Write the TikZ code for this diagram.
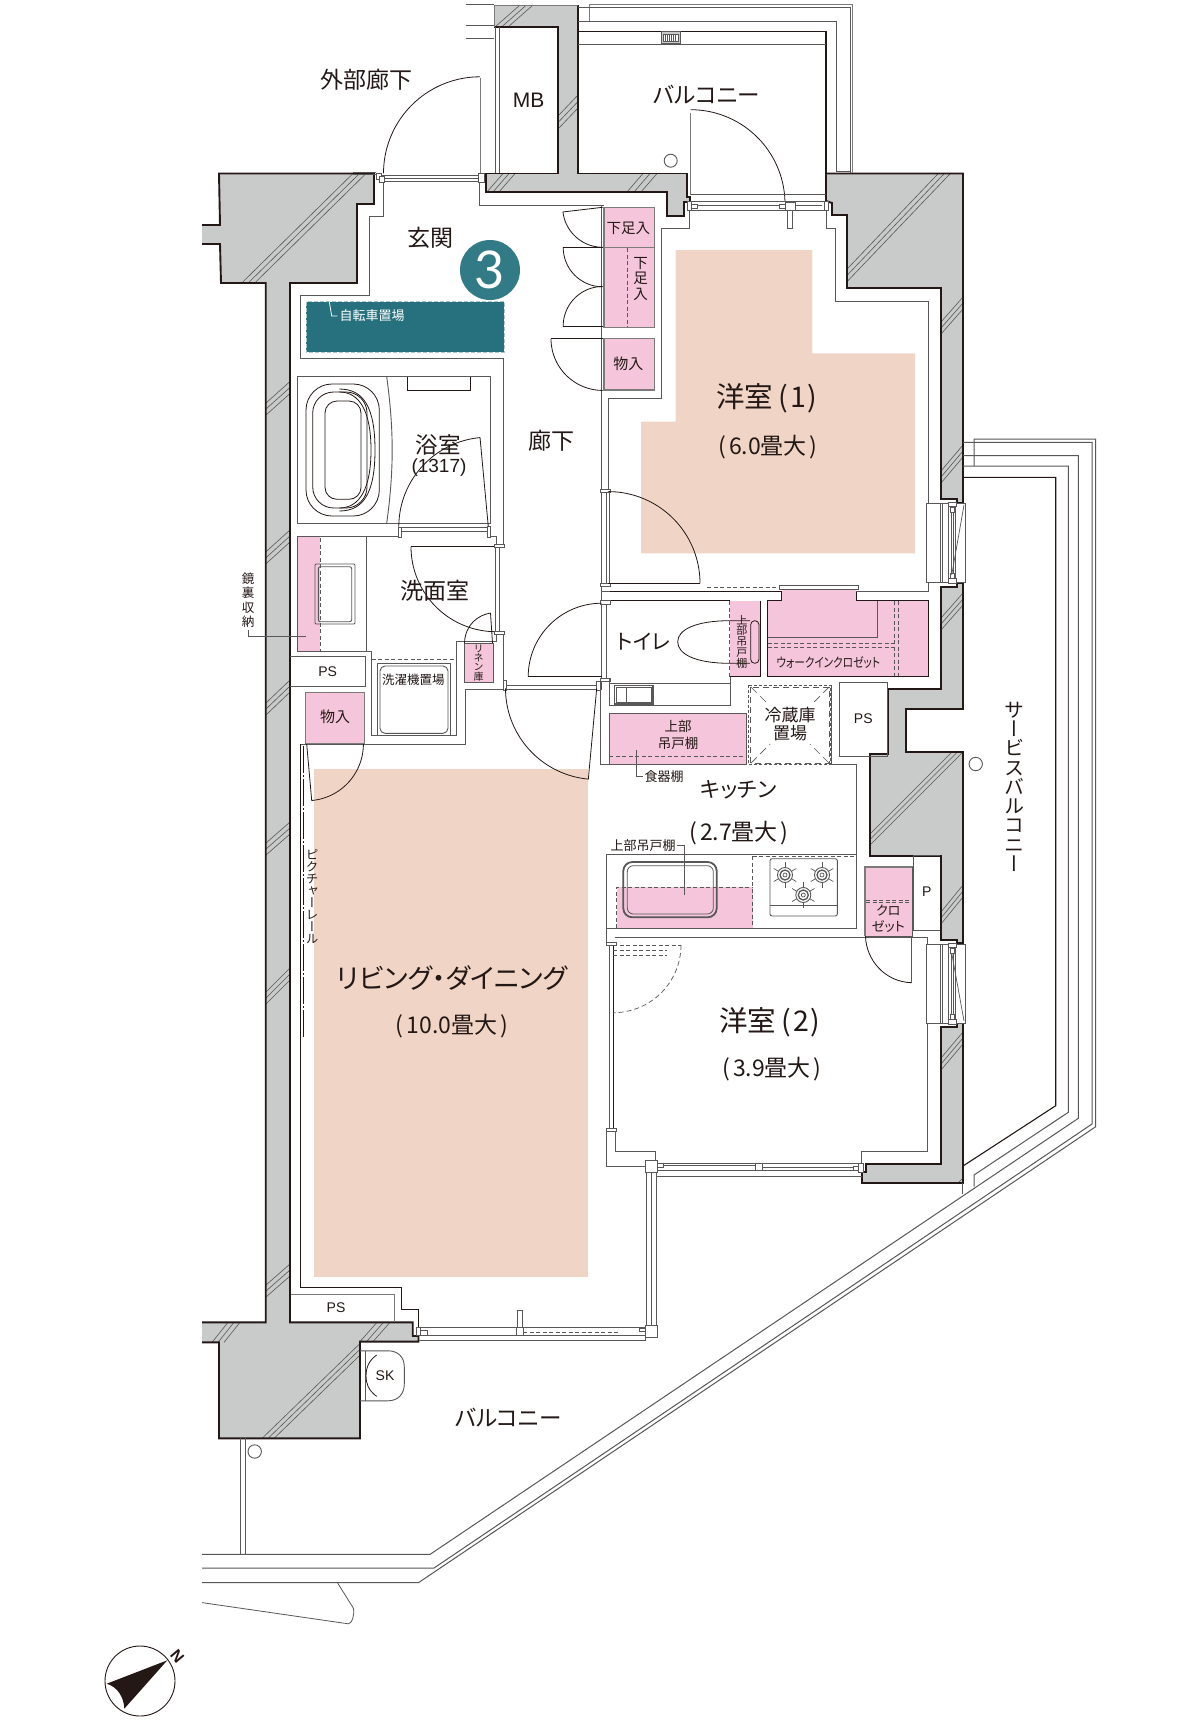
\documentclass[tikz,border=0pt]{standalone}
\usepackage{fontspec}
\setmainfont{Liberation Sans}
\newfontfamily\jp[RawFeature=+palt]{Noto Sans CJK JP}
\newfontfamily\jpv[RawFeature=+vert]{Noto Sans CJK JP}
\newfontfamily\latof{Lato}
\definecolor{ink}{HTML}{231815}
\definecolor{wallc}{HTML}{C9CACA}
\definecolor{pinkc}{HTML}{F5C6DB}
\definecolor{roomc}{HTML}{F0D5C6}
\definecolor{linec}{HTML}{595757}
\definecolor{grayc}{HTML}{7D7A7A}
\definecolor{tealc}{HTML}{26717D}
\definecolor{tealr}{HTML}{327A85}
\tikzset{
  wallout/.style={draw=ink,line width=1.9,line join=miter},
  hatchline/.style={draw=linec,line width=0.6},
  thinl/.style={draw=linec,line width=0.9},
  darkl/.style={draw=ink,line width=1.1},
  grayl/.style={draw=grayc,line width=1.2},
  doorl/.style={draw=ink,line width=0.8},
  dashg/.style={draw=linec,line width=0.9,dash pattern=on 4 off 2.5},
  pinkbox/.style={fill=pinkc,draw=grayc,line width=1.5},
  blockb/.style={fill=white,draw=linec,line width=0.8},
  tx/.style={inner sep=0,text=ink},
}
\newcommand\lbl[5]{\node[tx,font=\jp\fontsize{#4}{#4}\selectfont] (#1) at (#2,#3) {#5};}
\newcommand\lsf[5]{\node[tx,font=\fontsize{#4}{#4}\selectfont] (#1) at (#2,#3) {#5};}
\newcommand\vlbl[6]{\node[tx,align=center,font=\jpv\fontsize{#4}{#5}\selectfont] (#1) at (#2,#3) {#6};}
\newcommand\concrete[2]{\fill[wallc] #1; \begin{scope}\clip #1; #2\end{scope}}
\newcommand\hatchm[6]{\foreach \i in {0,1,2}{\draw[hatchline,shift={({\i*#5},{\i*#6})}] (#1,#2)--(#3,#4);}}
\newcommand\swing[5]{\draw[doorl] plot[domain=#4:#5,samples=40,variable=\t] ({#1+#3*cos(\t)},{#2+#3*sin(\t)});}
\newcommand\burner[2]{\begin{scope}[shift={(#1,#2)}]
  \foreach \a in {30,90,...,330}{\draw[thinl,line width=0.7] ({4*cos(\a)},{4*sin(\a)})--({13*cos(\a)},{13*sin(\a)});}
  \draw[thinl,fill=white] (0,0) circle[radius=7.5];
  \draw[thinl,line width=1.3] (0,0) circle[radius=5];
  \draw[thinl,line width=0.7] (0,0) circle[radius=2];
\end{scope}}
\newcommand\winbox[1]{\begin{scope}[shift={(0,#1)}]
  \draw[thinl,fill=white] (926.7,0) rectangle (965.7,79);
  \draw[thinl] (940.7,0)--(940.7,79) (942.7,0)--(942.7,79);
  \draw[thinl] (948.3,0)--(948.3,79) (955,0)--(955,79);
  \draw[thinl,line width=0.7] (951.7,9)--(951.7,70) (953.5,9)--(953.5,70);
  \draw[blockb] (948.3,-1) rectangle (956,3.5);
  \draw[blockb] (948.3,75.5) rectangle (956,80);
  \draw[blockb] (950.5,4) rectangle (954,9);
  \draw[blockb] (950.5,70) rectangle (954,75);
\end{scope}}
\begin{document}
\begin{tikzpicture}[x=1pt,y=-1pt]
\fill[white] (0,0) rectangle (1200,1721);
\useasboundingbox (0,0) rectangle (1200,1721);

% room floors
\fill[roomc] (675.7,250)--(812.3,250)--(812.3,353.3)--(915,353.3)--(915,553.3)--(641,553.3)--(641,421.7)--(675.7,421.7)--cycle;
\fill[roomc] (314,769) rectangle (588,1277);

% concrete walls
\newcommand\wallA{(202,225)--(220,225)--(219,173.5)--(374,173.5)--(374,204)--(357,204)--(357,283)--(290,283)--(290,1322.3)--(412.7,1322.3)--(412.7,1336)--(418.5,1336)--(418.5,1341.6)--(360,1341.6)--(360,1438.4)--(219,1438.4)--(219,1342.4)--(202,1342.4)--(202,1322.3)--(265.7,1322.3)--(265.7,283)--(221,283)--(220,244)--(202,244)--cycle}
\concrete{\wallA}{
  \hatchm{241.7}{283}{353}{173.5}{6.5}{0}
  \hatchm{266}{403}{290}{381.5}{0}{6}
  \hatchm{266}{551.7}{290}{530}{0}{6}
  \hatchm{266}{703}{290}{680}{0}{6}
  \hatchm{266}{843}{290}{822}{0}{6}
  \hatchm{266}{992}{290}{968}{0}{6}
  \hatchm{266}{1285}{290}{1264}{0}{6}
  \hatchm{212}{1342.4}{228}{1322.3}{6}{0}
  \hatchm{360}{1341.6}{377}{1322.3}{6.5}{0}
  \hatchm{262}{1438.4}{360}{1343.5}{6}{0}
}
\draw[wallout] (202,225)--(220,225)--(219,173.5)--(374,173.5)--(374,204)--(357,204)--(357,283)--(290,283)--(290,1322.3)--(412.7,1322.3)--(412.7,1336)--(418.5,1336)--(418.5,1341.6)--(360,1341.6)--(360,1438.4)--(219,1438.4)--(219,1342.4)--(202,1342.4);
\draw[wallout] (202,1322.3)--(265.7,1322.3)--(265.7,283)--(221,283)--(220,244)--(202,244);

\newcommand\wallB{(494,5)--(578,5)--(578,173.5)--(686.7,173.5)--(686.7,196.7)--(690,196.7)--(690,201.7)--(684,201.7)--(684,216)--(666.7,216)--(666.7,192)--(486,192)--(486,173.5)--(558,173.5)--(558,27)--(494,27)--cycle}
\concrete{\wallB}{
  \hatchm{495}{27}{520}{5}{6.5}{0}
  \hatchm{559}{115}{578}{95}{0}{6.5}
  \hatchm{487}{192}{503}{173.5}{6}{0}
  \hatchm{627}{192}{643}{173.5}{7}{0}
}
\draw[wallout] (494,27)--(558,27)--(558,173.5)--(486,173.5)--(486,192)--(666.7,192)--(666.7,216)--(684,216)--(684,201.7)--(690,201.7)--(690,196.7)--(686.7,196.7)--(686.7,173.5)--(578,173.5)--(578,5);
\draw[grayl,line width=0.9] (494,27)--(494,5)--(578,5);

\newcommand\wallC{(826,173.5)--(963,173.5)--(963,503)--(957,503)--(957,499)--(941,499)--(941,288)--(847,288)--(847,215)--(832,215)--(832,203)--(826,201)--cycle}
\concrete{\wallC}{
  \hatchm{828}{289}{938.3}{173.5}{6}{0}
  \hatchm{941}{322}{963}{297}{0}{6}
  \hatchm{941}{471}{963}{445}{0}{6}
}
\draw[wallout] \wallC;

\newcommand\wallD{(941,587)--(957,587)--(957,583)--(963,583)--(963,709)--(906,709)--(906,752)--(963,752)--(963,943)--(957,943)--(957,940)--(941,940)--(941,855.7)--(870,855.7)--(870,754)--(887.7,754)--(887.7,689)--(941,689)--cycle}
\concrete{\wallD}{
  \hatchm{941}{618}{963}{593}{0}{6}
  \hatchm{860}{844}{952}{752}{5.5}{0}
  \hatchm{941}{912}{963}{885}{0}{6}
}
\draw[wallout] \wallD;

\newcommand\wallE{(941,1027)--(957,1027)--(957,1023)--(963,1023)--(963,1183)--(862,1183)--(862,1172)--(866,1172)--(866,1164)--(941,1164)--cycle}
\concrete{\wallE}{
  \hatchm{941}{1058}{963}{1032}{0}{6}
  \draw[hatchline] (958,1183)--(963,1178);
}
\draw[wallout] \wallE;

% pink storage
\draw[pinkbox] (604,207.3) rectangle (654.7,247.3);
\draw[pinkbox] (604,247.3) rectangle (654.7,327.3);
\draw[dashg] (627.3,248)--(627.3,327);
\draw[pinkbox] (604,338.7) rectangle (654.7,390);
\fill[pinkc] (729.7,600.7) rectangle (760.7,676.7);
\fill[pinkc] (767.7,600.7) rectangle (928,676.7);
\fill[pinkc] (781.7,589) rectangle (856,601);
\fill[pinkc] (609.3,713.3) rectangle (746.7,764.3);
\fill[pinkc] (298.3,537.3) rectangle (320,651.7);
\draw[pinkbox] (305.7,692.3) rectangle (364.3,743.3);
\draw[pinkbox,draw=linec,line width=1] (464,643.3) rectangle (493.3,682.3);
\fill[pinkc] (616.7,887.3) rectangle (752.7,928.3);
\fill[pinkc] (865,867.3) rectangle (912.7,936);
\draw[grayl,line width=2] (865,936)--(865,867.3)--(912.7,867.3);
\draw[thinl] (912.7,867.3)--(912.7,936);
\draw[thinl] (865,936)--(912.7,936);

% corridor & room finishing lines
\draw[thinl] (383,182)--(383,216.7)--(369.3,216.7)--(369.3,295)--(300.7,295)--(300.7,358)--(503.3,358)--(503.3,545);
\draw[thinl] (503.3,634)--(503.3,689.3)--(465,689.3)--(465,744.3)--(300.7,744.3);
\draw[darkl,line width=0.9] (300.7,744.3)--(300.7,1287.2)--(401.7,1287.2)--(401.7,1309.9)--(418.7,1309.9)--(418.7,1327);
\draw[thinl] (479,182)--(479,205)--(604,205);
\draw[thinl] (601.7,205)--(601.7,490);
\draw[thinl] (689.3,205)--(689.3,228)--(661.7,228)--(661.7,398)--(608.5,398)--(608.5,490);
\draw[thinl] (826,207)--(826,228)--(835.3,228)--(835.3,301.7)--(928.3,301.7)--(928.3,503);
\draw[thinl] (928.3,582)--(928.3,591.7)--(856,591.7);
\draw[darkl] (610,591.7)--(780,591.7);
\draw[darkl] (610,600.7)--(729.7,600.7);
\draw[dashg] (707.3,587.3)--(779,587.3);
\draw[thinl] (601.7,492)--(601.7,690) (606,492)--(606,583) (609.3,492)--(609.3,583);
\draw[thinl] (606,603)--(606,678) (601.7,591.7)--(610,591.7);
\foreach \yy in {489,583,600.7,678}{\draw[blockb] (600.7,\yy) rectangle (610,\yy+3.2);}

% entrance door
\draw[grayl,line width=1] (480,78.3)--(480,173.3);
\swing{480}{173.3}{96.5}{180}{270}
\draw[thinl,fill=white] (381.7,175) rectangle (480,181.7);
\draw[thinl,line width=0.6] (381.7,178)--(480,178);
\draw[blockb] (376,173) rectangle (381.7,179);
\draw[blockb] (379,176) rectangle (384,182);
\draw[blockb] (478.5,173) rectangle (484,182);
\draw[thinl,line width=0.7] (352.7,172)--(376,172) (352.7,174)--(376,174);
% MB
\draw[thinl] (495,27)--(495,173) (499,27)--(499,173);
\draw[thinl,line width=0.8] (465.7,4.7)--(494,4.7) (465.7,25.7)--(494,25.7) (465.7,38)--(494,38);

% top balcony
\draw[grayl,line width=1] (589.3,21)--(589.3,4.7)--(852.7,4.7)--(852.7,173);
\draw[thinl,line width=0.8] (578,7.3)--(850,7.3)--(850,173);
\draw[thinl] (578,21)--(836,21)--(836,171.7)--(850,171.7);
\draw[darkl] (578,31.7)--(826,31.7)--(826,173);
\draw[thinl] (578,44)--(826,44);
\draw[thinl,fill=wallc] (661.7,31.7) rectangle (680,43.3);
\draw[thinl,fill=white,line width=0.6] (663.5,34) rectangle (678,41);
\foreach \xx in {665.5,667.5,...,676.5}{\draw[thinl,line width=0.6] (\xx,34)--(\xx,41);}
\draw[thinl] (670.7,160.7) circle[radius=6.5];
% balcony door
\draw[grayl,line width=1] (690.7,113)--(690.7,195);
\swing{690.7}{204}{94.3}{270}{360}
\draw[thinl] (690.7,194.3)--(826,194.3);
\draw[thinl,fill=white] (687.3,201.7) rectangle (828.3,210.7);
\draw[thinl,line width=0.7] (696,205)--(785,205) (795,205)--(822,205);
\draw[blockb] (691,204.5) rectangle (697,208);
\draw[blockb] (779,204.5) rectangle (785,208);
\draw[blockb] (785,202.3) rectangle (795,210.7);
\draw[blockb] (787.3,210.7) rectangle (792.3,228.3);
\draw[blockb] (687.3,201.7) rectangle (691,210.7);
\draw[blockb] (824,201.7) rectangle (828.3,210.7);

% shoe closet doors
\draw[doorl] (562.7,212)--(602.7,207.3);
\swing{602.7}{207.3}{40}{173}{90}
\draw[doorl] (562.7,247.3)--(602.7,247.3);
\swing{602.7}{247.3}{39.5}{180}{90}
\draw[doorl] (562.7,326)--(602.7,326);
\swing{602.7}{326}{39.5}{180}{270}
\draw[doorl] (551,338.7)--(602.7,338.7);
\swing{602.7}{338.7}{51.7}{180}{90}

% bicycle parking
\fill[tealc] (306,301.7) rectangle (504.3,352.3);
\draw[draw=white!60!tealc,line width=1,dash pattern=on 4 off 2] (306,301.7) rectangle (504.3,352.3);
\draw[white,line width=0.8] (329.3,301.7)--(331.7,316)--(337.3,316);
\fill[tealr] (490,270) circle[radius=30];

% bathroom
\draw[thinl] (297.3,376.7) rectangle (490,523.3);
\draw[thinl] (386.7,376.7) .. controls (394,430) and (394,470) .. (386.7,523.3);
\draw[darkl,line width=0.8] (407.3,376.7)--(407.3,390.7)--(470,390.7)--(470,376.7);
\draw[doorl] (306,384) [rounded corners=26] rectangle (379.3,516);
\draw[doorl] (312.7,392) [rounded corners=21] rectangle (367,508);
\draw[doorl] (325,401) [rounded corners=12] rectangle (361,499.3);
\draw[doorl] (339.3,389) .. controls (364,389) and (375,408) .. (375,450) .. controls (375,492) and (364,511) .. (339.3,511);
\draw[doorl] (339.3,392) .. controls (360,392) and (371,412) .. (371,450) .. controls (371,488) and (360,508) .. (339.3,508);
\draw[thinl] (399.3,527.7)--(488.3,527.7) (399.3,531.5)--(488.3,531.5);
\draw[blockb] (398.3,527.7) rectangle (400.9,537.7);
\draw[blockb] (487.3,526.7) rectangle (490,537.7);
\draw[doorl] (480,437.3)--(488.3,526.7);
\swing{488.3}{526.7}{89.5}{180}{264.7}
\draw[thinl] (297.3,536.7)--(398.3,536.7);
\draw[thinl] (490,536.7)--(496,536.7)--(496,545);

% washroom
\draw[thinl] (297.3,536.7)--(297.3,651.7)--(371.7,651.7)--(371.7,735)--(456.7,735)--(456.7,641)--(496,641)--(496,633);
\draw[thinl] (366,537)--(366,651.7);
\draw[dashg] (320,538)--(320,651);
\draw[thinl] (315,564) [rounded corners=1] rectangle (355,624);
\draw[thinl] (318.3,566.7) [rounded corners=2] rectangle (351.7,621.7);
\draw[thinl] (290,656.7)--(365.7,656.7)--(365.7,686)--(290,686);
\draw[dashg] (371.7,659)--(456.7,659);
\draw[thinl] (377.7,663.3) rectangle (450,735.7);
\draw[thinl] (380,666) [rounded corners=5] rectangle (448,733.3);
\draw[doorl] (411,546.7)--(496,546.7);
\swing{496}{546.7}{85}{180}{90}
\draw[thinl] (495.3,546)--(495.3,632) (499.3,546)--(499.3,632);
\draw[blockb] (494.3,544.3) rectangle (504,546.9);
\draw[blockb] (494.3,631.7) rectangle (504.3,634);
% linen door
\draw[doorl] (490.5,613)--(492.5,643);
\draw[doorl] (464.5,643) .. controls (465,625) and (478,615) .. (490.5,613);
% leaders
\draw[thinl,line width=0.7] (248,630)--(248,636.5)--(306,636.5);

% store door, picture rail
\draw[doorl] (306.7,744)--(311.7,800.5);
\swing{306.7}{744}{56.7}{0}{85}
\draw[ink,line width=0.7,dash pattern=on 27 off 2 on 2 off 2] (303,746)--(303,1037);

% LD door
\draw[thinl] (505,685.7)--(598,685.7) (505,689.3)--(598,689.3);
\draw[blockb] (503.3,680.7) rectangle (506,690);
\draw[blockb] (596.7,681.7) rectangle (600,690);
\draw[doorl] (596.7,688.3)--(588.3,779.3);
\swing{596.7}{688.3}{91.2}{180}{95.2}
% toilet door
\draw[doorl] (528,676.7)--(601.7,676.7);
\swing{601.7}{676.7}{73.5}{180}{270}
% room 1 door
\draw[doorl] (608.3,583.3)--(700,583.3);
\swing{608.3}{583.3}{91.7}{0}{-90}

% toilet
\draw[thinl] (609.3,678)--(609.3,705)--(730,705)--(730,676.7);
\draw[thinl] (609.3,683.3)--(730,683.3);
\draw[thinl,line width=1.2] (614.3,685.3) rectangle (653,704);
\draw[thinl,line width=0.8] (616.5,687.5) rectangle (651,702);
\draw[thinl] (626.7,687)--(626.7,703);
\draw[doorl] (750,620.7)--(730,620.7) .. controls (695,620.7) and (677.7,630) .. (677.7,641.7) .. controls (677.7,654) and (695,663.3) .. (730,663.3)--(750,663.3);
\draw[dashg,line width=0.7] (729.7,601)--(729.7,676.7);
\draw[doorl] (750.7,620.7) [rounded corners=4] rectangle (759,663.3);
\draw[darkl,line width=0.8] (760.7,600.7)--(760.7,676.7)--(729.7,676.7);
% WIC
\draw[darkl,line width=0.9] (780,591.7)--(781.7,591.7)--(781.7,600.7)--(767.7,600.7)--(767.7,676.7)--(928,676.7)--(928,600.7)--(856,600.7)--(856,591.7);
\draw[thinl,fill=white] (779,585) rectangle (858.3,589);
\draw[thinl] (767.7,637.3)--(877.3,637.3)--(877.3,600.7);
\draw[dashg] (767.7,643.3)--(895,643.3) (767.7,647.3)--(895,647.3) (894.3,601)--(894.3,676) (898.3,601)--(898.3,676);
% kitchen cabinet
\draw[thinl] (609.3,764.3)--(609.3,713.3)--(746.7,713.3)--(746.7,764.3);
\draw[thinl] (600.7,683)--(600.7,764.3)--(746.7,764.3);
\draw[dashg] (609.3,756.7)--(746.7,756.7);
\draw[thinl,line width=0.7] (636,750)--(636,776.7)--(643.3,776.7);
% fridge
\draw[dashg,line width=0.8,dash pattern=on 3 off 2] (748.3,685) rectangle (830.7,764.3);
\draw[dashg,line width=0.8,dash pattern=on 6 off 4] (750.7,687) rectangle (829,763);
\draw[dashg,line width=0.7,dash pattern=on 8 off 5] (751,687)--(768,704) (829,687)--(812,704) (751,763)--(770,744) (829,763)--(810,744);
\draw[thinl] (831.7,685)--(831.7,764.3)--(856,764.3)--(856,854);
\draw[thinl] (839.3,682.7) rectangle (887.3,756.7);
% kitchen counter
\draw[thinl] (606,854)--(856.7,854)--(856.7,928.3)--(606,928.3)--cycle;
\draw[dashg,line width=0.8] (616.7,928)--(616.7,887.3)--(752.7,887.3);
\draw[dashg,line width=0.8] (752.7,856)--(752.7,928) (752.7,856)--(856,856);
\draw[linec,line width=1.8] (623.3,862) [rounded corners=9] rectangle (716.7,917.3);
\draw[thinl,line width=0.8] (627.3,865.7) [rounded corners=6] rectangle (713.3,914);
\draw[thinl,line width=0.7] (677.3,845)--(684.7,845)--(684.7,895);
\draw[thinl] (770,858.7) [rounded corners=2] rectangle (837.3,916);
\draw[thinl] (770,905)--(837.3,905);
\burner{785}{875}
\burner{822}{875}
\burner{803.3}{895}
% P box, closet
\draw[thinl] (913.3,855.7)--(940,855.7) (913.3,855.7)--(913.3,930)--(940,930);
\draw[dashg] (866,900)--(912,900) (866,902.5)--(912,902.5);

% room 2
\draw[thinl] (615,937.3)--(927.7,937.3)--(927.7,945);
\draw[thinl] (606,928.3)--(606,942.7);
\draw[thinl] (609.3,945)--(609.3,1130);
\draw[darkl] (613.3,945)--(613.3,1130);
\draw[blockb] (606,942.7) rectangle (616.7,945.7);
\draw[blockb] (606,1128) rectangle (616.7,1131.7);
\draw[thinl] (927.7,1023)--(927.7,1151.7)--(861.7,1151.7)--(861.7,1163);
\draw[thinl] (615,1131.7)--(615,1151.7)--(655,1151.7)--(655,1161.7);
\draw[thinl] (606.7,1131.7)--(606.7,1166.7)--(645.7,1166.7);
\draw[doorl] (865.5,936) .. controls (866,960) and (885,982) .. (911.7,982.7);
\draw[thinl] (911.7,936.7)--(911.7,982.7);
\draw[dashg,line width=0.7] (613.3,945)--(681,945);
\draw[dashg,line width=0.7] (613.3,950.7)--(667,950.7) (613.3,955)--(667,955);
\draw[dashg,line width=0.7,dash pattern=on 5 off 3] plot[domain=0:90,samples=40,variable=\t] ({613.3+67.7*cos(\t)},{945+67.7*sin(\t)});
\winbox{503}
\draw[thinl,line width=0.7] (964,505)--(951.7,575);
\winbox{944.3}
\draw[thinl,line width=0.7] (951.7,953)--(964,1021);

% south sash of room 2
\draw[thinl] (656.7,1163.3)--(862,1163.3) (656.7,1165)--(755.7,1165) (656.7,1170)--(861.7,1170);
\draw[thinl] (762.3,1167)--(856,1167);
\draw[thinl] (656.7,1176)--(862,1176);
\draw[blockb] (755.7,1163.3) rectangle (762.3,1170);
\draw[blockb] (853,1166) rectangle (858,1170);
\draw[blockb] (858,1163) rectangle (863,1172);
\draw[blockb] (656.7,1163.5) rectangle (663,1167);
\draw[thinl] (646.7,1172)--(646.7,1326) (651,1172)--(651,1326) (656,1172)--(656,1326);
\draw[blockb] (645.7,1160.8) rectangle (657.3,1172.3);
\draw[blockb] (645.7,1325.2) rectangle (657.3,1336.9);
% south sash of LD
\draw[thinl] (420.7,1327)--(645.7,1327) (420.7,1335)--(645.7,1335) (418.5,1340.5)--(645.7,1340.5) (645.7,1336.9)--(645.7,1340.5);
\draw[dashg,line width=0.7] (523.3,1332.5)--(620,1332.5);
\draw[blockb] (416,1327) rectangle (420.7,1335);
\draw[blockb] (420.7,1330.5) rectangle (427,1335);
\draw[blockb] (516.7,1327) rectangle (523.3,1335);
\draw[blockb] (517.3,1309.9) rectangle (522.3,1327);
\draw[blockb] (639,1328) rectangle (645.7,1331.5);
% PS bottom
\draw[grayl,line width=1] (290.7,1294.9)--(394,1294.9)--(394,1322.3);
% SK
\draw[thinl] (360,1350.8)--(388,1350.8) .. controls (398,1350.8) and (404.3,1357) .. (404.3,1367)--(404.3,1384) .. controls (404.3,1394) and (398,1400.8) .. (388,1400.8)--(360,1400.8);
\draw[thinl] (365,1350.8)--(365,1400.8);
\draw[doorl] (376.7,1355) .. controls (368,1361) and (366,1369) .. (366,1375.6) .. controls (366,1383) and (368,1390) .. (376.7,1396.4);
% bottom-left balcony
\draw[thinl] (254.7,1451.5) circle[radius=6.7];
\draw[thinl] (240.7,1438.4)--(240.7,1554.4) (245,1438.4)--(245,1554.4);

% balcony edges
\draw[thinl,line width=1] (974,466)--(974,439)--(1095.7,439)--(1095.7,1126.7)--(418.7,1582.5)--(202,1582.5);
\draw[thinl,line width=1] (963,442.3)--(1092,442.3)--(1092,1124)--(434,1568)--(202,1568);
\draw[thinl,line width=1] (963,455.7)--(1078.3,455.7)--(1078.3,1118.3)--(430,1554.4)--(202,1554.4);
\draw[thinl,line width=1] (963,466)--(1068.3,466)--(1068.3,1112.3)--(974,1175)--(974,1186.7);
\draw[darkl] (963,477.3)--(1055.7,477.3)--(1055.7,1105.7)--(963,1166);
\draw[thinl,line width=0.9] (962.7,1183)--(962.7,1194);
\draw[thinl,line width=0.8] (337.3,1582.5)--(353.3,1608) .. controls (355,1614) and (352,1623.8) .. (348.3,1623.8)--(202,1602.6);
\draw[thinl] (975.7,764) circle[radius=6.7];

% compass
\draw[ink,line width=0.9] (140,1681) circle[radius=35];
\fill[ink] (167.3,1660.3)--(106.7,1683.7) .. controls (118,1687) and (124,1698) .. (124.3,1708.7)--cycle;
\node[tx,font=\bfseries\fontsize{16}{16}\selectfont,rotate=-50] (north) at (177.3,1656) {N};

% labels
\lbl{lA}{366}{79.3}{23}{外部廊下}
\lsf{lMB}{528.7}{100}{21}{MB}
\lbl{lB}{706.7}{95}{22.5}{バルコニー}
\lbl{lC}{430}{238}{23}{玄関}
\node[inner sep=0,text=white,font=\latof\fontsize{52}{52}\selectfont] (lThree) at (490,270) {3};
\node[inner sep=0,text=white,font=\jp\fontsize{13}{13}\selectfont] (lBike) at (372,316) {自転車置場};
\lbl{lD}{628.3}{228.3}{14.5}{下足入}
\vlbl{lE}{640.7}{279}{14.5}{15.5}{下\\足\\入}
\lbl{lF}{628.3}{364}{15}{物入}
\node[tx,font=\jp\fontsize{28.5}{28.5}\selectfont] (lG) at (767,398.5) {洋室\hspace{5pt}(\hspace{2pt}1\hspace{2pt})};
\node[tx,font=\jp\fontsize{23}{23}\selectfont] (lH) at (768,447) {(\hspace{3pt}6.0畳大\hspace{3pt})};
\lbl{lI}{551.7}{440.7}{23}{廊下}
\lbl{lJ}{438.3}{445}{22.5}{浴室}
\lsf{lK}{439}{467.5}{19}{(1317)}
\lbl{lL}{435}{590.7}{23}{洗面室}
\lbl{lM}{643.3}{641.7}{21}{トイレ}
\lsf{lN}{327.7}{671.7}{14}{PS}
\lbl{lO}{413.3}{680}{12.5}{洗濯機置場}
\lbl{lP}{335}{716.7}{15}{物入}
\vlbl{lQ}{478.7}{663}{10}{9.3}{リ\\ネ\\ン\\庫}
\vlbl{lR}{248}{600}{12.5}{14.5}{鏡\\裏\\収\\納}
\vlbl{lS}{741.8}{641.5}{11}{10.7}{上\\部\\吊\\戸\\棚}
\node[tx,font=\jp\fontsize{13}{13}\selectfont] (lT) at (828.3,662.7) {\scalebox{0.82}[1]{ウォークインクロゼット}};
\lbl{lU}{678}{726}{13.5}{上部}
\lbl{lV}{678}{743}{13.5}{吊戸棚}
\lbl{lW}{664}{777}{13}{食器棚}
\node[tx,align=center,font=\jp\fontsize{17}{18}\selectfont] (lX) at (790,724) {冷蔵庫\\置場};
\lsf{lY}{863.3}{718.3}{14}{PS}
\lbl{lZ}{738.5}{789.3}{21.5}{キッチン}
\node[tx,font=\jp\fontsize{23}{23}\selectfont] (lAA) at (739,833) {(\hspace{3pt}2.7畳大\hspace{3pt})};
\lbl{lAB}{643}{845.7}{13}{上部吊戸棚}
\lsf{lAC}{926.7}{891.7}{14}{P}
\node[tx,align=center,font=\jp\fontsize{13}{15.5}\selectfont] (lAD) at (888.3,918.5) {クロ\\ゼット};
\vlbl{lAE}{1014}{786.7}{20}{19.3}{サ\\ー\\ビ\\ス\\バ\\ル\\コ\\ニ\\ー}
\vlbl{lAF}{312}{897}{12.5}{12}{ピ\\ク\\チ\\ャ\\ー\\レ\\ー\\ル}
\node[tx,font=\jp\fontsize{27}{27}\selectfont] (lAG) at (452,978) {リビング・ダイニング};
\node[tx,font=\jp\fontsize{23}{23}\selectfont] (lAH) at (452,1026.5) {(\hspace{3pt}10.0畳大\hspace{3pt})};
\node[tx,font=\jp\fontsize{28.5}{28.5}\selectfont] (lAI) at (770,1022) {洋室\hspace{5pt}(\hspace{2pt}2\hspace{2pt})};
\node[tx,font=\jp\fontsize{23}{23}\selectfont] (lAJ) at (772,1069.5) {(\hspace{3pt}3.9畳大\hspace{3pt})};
\lsf{lAK}{336}{1308}{14}{PS}
\lsf{lAL}{385}{1375.6}{14}{SK}
\lbl{lAM}{508.3}{1417.5}{22.5}{バルコニー}
\end{tikzpicture}
\end{document}
